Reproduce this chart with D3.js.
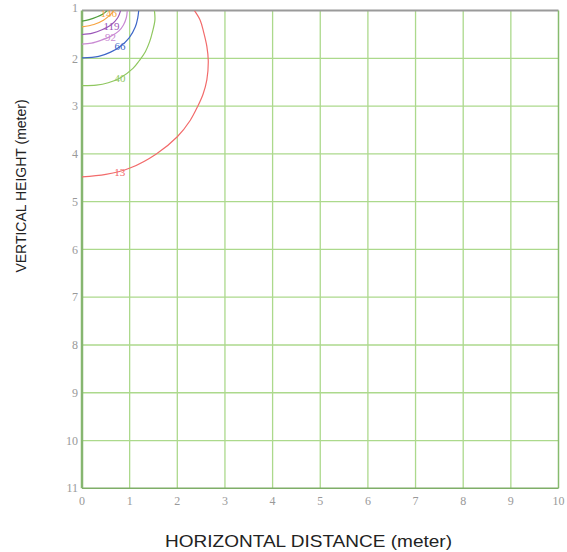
<!DOCTYPE html>
<html>
<head>
<meta charset="utf-8">
<script src="https://cdn.jsdelivr.net/npm/d3@7"></script>
<style>
  html, body { margin: 0; padding: 0; background: #fff; }
  #plot { width: 567px; height: 552px; }
</style>
</head>
<body>
<div id="plot"></div>
<script>
// Ticks
const xTicks = [0, 1, 2, 3, 4, 5, 6, 7, 8, 9, 10];
const yTicks = [1, 2, 3, 4, 5, 6, 7, 8, 9, 10, 11];

// Contour levels ([x, y] in meters)
const levels = [172, 146, 119, 92, 66, 40, 13];
const levelColors = ["#4f9d3c", "#f7a440", "#9a55b8", "#c98ad3", "#3e67c8", "#8fc75f", "#f26b6b"];
const c172 = [[0.53, 1], [0.44, 1.07], [0.32, 1.13], [0.15, 1.19], [0, 1.22]];
const c146 = [[0.67, 1], [0.58, 1.1], [0.45, 1.2], [0.25, 1.29], [0, 1.34]];
const c119 = [[0.81, 1], [0.75, 1.15], [0.62, 1.29], [0.42, 1.4], [0.22, 1.47], [0, 1.5]];
const c92 = [[0.95, 1], [0.93, 1.15], [0.87, 1.3], [0.77, 1.43], [0.6, 1.54], [0.4, 1.62], [0.2, 1.68], [0, 1.7]];
const c66 = [[1.19, 1], [1.17, 1.15], [1.12, 1.34], [0.99, 1.57], [0.8, 1.75], [0.6, 1.87], [0.35, 1.96], [0, 1.99]];
const c40 = [[1.52, 1], [1.53, 1.2], [1.48, 1.44], [1.42, 1.65], [1.33, 1.86], [1.2, 2.05], [1.07, 2.21], [0.8, 2.41], [0.55, 2.51], [0.3, 2.56], [0, 2.57]];
const c13 = [[2.36, 1], [2.48, 1.2], [2.55, 1.44], [2.62, 1.75], [2.65, 2.05], [2.62, 2.45], [2.54, 2.75], [2.43, 3.0], [2.27, 3.3], [2.0, 3.64], [1.56, 4.0], [1.02, 4.29], [0.5, 4.43], [0, 4.48]];
const contours = [c172, c146, c119, c92, c66, c40, c13];
// Label spots on each line (null = label off the plot)
const labelSpots = [null, [0.56, 1.05], [0.62, 1.32], [0.6, 1.55], [0.8, 1.75], [0.8, 2.41], [0.79, 4.39]];

const margin = { top: 10.6, left: 82, right: 8.5, bottom: 63.7 };
const W = 567, H = 552;
const width = W - margin.left - margin.right;
const height = H - margin.top - margin.bottom;

const svg = d3.select("#plot").append("svg")
  .attr("width", W)
  .attr("height", H);

const x = d3.scaleLinear().domain([0, 10]).range([0, width]);
const y = d3.scaleLinear().domain([1, 11]).range([0, height]);

const g = svg.append("g")
  .attr("transform", `translate(${margin.left},${margin.top})`);

g.append("clipPath").attr("id", "clip")
  .append("rect").attr("width", width).attr("height", height);

// Grid
g.append("g")
  .selectAll("line")
  .data(xTicks.slice(1, -1))
  .enter().append("line")
    .attr("x1", d => x(d)).attr("x2", d => x(d))
    .attr("y1", 0).attr("y2", height)
    .attr("stroke", "#acd98c").attr("stroke-width", 1.3);
g.append("g")
  .selectAll("line")
  .data(yTicks.slice(1, -1))
  .enter().append("line")
    .attr("x1", 0).attr("x2", width)
    .attr("y1", d => y(d)).attr("y2", d => y(d))
    .attr("stroke", "#acd98c").attr("stroke-width", 1.3);

// Frame
g.append("line").attr("x1", 0).attr("x2", width).attr("y1", 0).attr("y2", 0)
  .attr("stroke", "#9a9a9a").attr("stroke-width", 2);
g.append("line").attr("x1", width).attr("x2", width).attr("y1", 0).attr("y2", height)
  .attr("stroke", "#86bb6e").attr("stroke-width", 1.5);
g.append("line").attr("x1", 0).attr("x2", width).attr("y1", height).attr("y2", height)
  .attr("stroke", "#7fae68").attr("stroke-width", 1.5);
g.append("line").attr("x1", 0).attr("x2", 0).attr("y1", 0).attr("y2", height)
  .attr("stroke", "#86b670").attr("stroke-width", 2.5);

// Contours
const line = d3.line()
  .x(d => x(d[0]))
  .y(d => y(d[1]))
  .curve(d3.curveCatmullRom.alpha(0.5));

g.append("g").attr("clip-path", "url(#clip)")
  .selectAll("path")
  .data(contours)
  .enter().append("path")
    .attr("d", line)
    .attr("fill", "none")
    .attr("stroke", (d, i) => levelColors[i])
    .attr("stroke-width", 1.2);

g.append("g").attr("clip-path", "url(#clip)")
  .selectAll("text")
  .data(levels.map((v, i) => ({ v, i, p: labelSpots[i] })).filter(d => d.p))
  .enter().append("text")
    .attr("x", d => x(d.p[0]))
    .attr("y", d => y(d.p[1]))
    .attr("dy", "0.35em")
    .attr("text-anchor", "middle")
    .attr("fill", d => levelColors[d.i])
    .style("font-family", "'Liberation Serif', serif")
    .style("font-size", "11px")
    .text(d => d.v);

// Tick labels
g.append("g")
  .selectAll("text")
  .data(xTicks)
  .enter().append("text")
    .attr("x", d => x(d))
    .attr("y", height + 13)
    .attr("dy", "0.35em")
    .attr("text-anchor", "middle")
    .attr("fill", "#999")
    .style("font-family", "'Liberation Serif', serif")
    .style("font-size", "12px")
    .text(d => d);

g.append("g")
  .selectAll("text")
  .data(yTicks)
  .enter().append("text")
    .attr("x", -4)
    .attr("y", d => y(d))
    .attr("dy", d => d === 1 ? "0.1em" : "0.35em")
    .attr("text-anchor", "end")
    .attr("fill", "#999")
    .style("font-family", "'Liberation Serif', serif")
    .style("font-size", "12px")
    .text(d => d);

// Axis titles
svg.append("text")
  .attr("x", 308.5)
  .attr("y", 541)
  .attr("dy", "0.35em")
  .attr("text-anchor", "middle")
  .attr("fill", "#222")
  .attr("textLength", 287)
  .attr("lengthAdjust", "spacingAndGlyphs")
  .style("font-family", "'Liberation Sans', Arial, sans-serif")
  .style("font-size", "17px")
  .text("HORIZONTAL DISTANCE (meter)");

svg.append("text")
  .attr("transform", "translate(21,186) rotate(-90)")
  .attr("dy", "0.35em")
  .attr("text-anchor", "middle")
  .attr("fill", "#222")
  .style("font-family", "'Liberation Sans', Arial, sans-serif")
  .style("font-size", "14px")
  .text("VERTICAL HEIGHT (meter)");
</script>
</body>
</html>
